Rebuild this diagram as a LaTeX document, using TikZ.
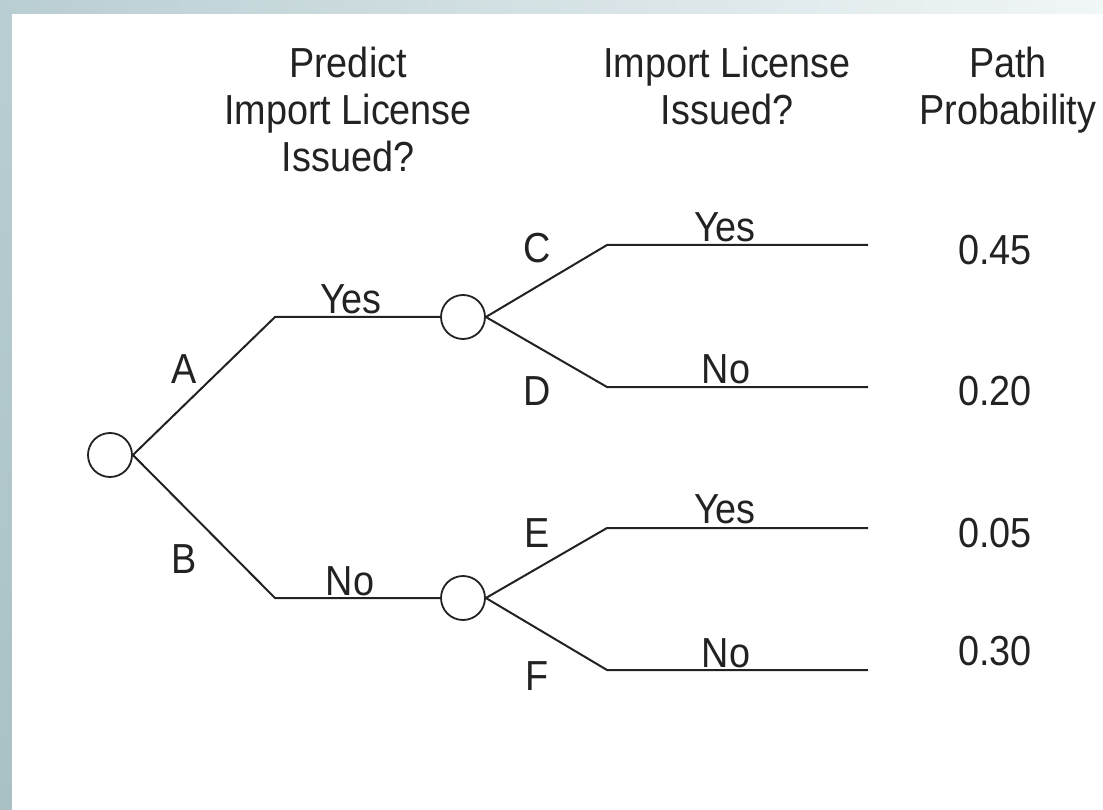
\documentclass[tikz,border=0pt]{standalone}
\usepackage{fontspec}
\setmainfont{Liberation Sans}[FakeStretch=0.9]
\usetikzlibrary{positioning}
\definecolor{edgeblue}{HTML}{B9CED2}
\definecolor{edgedark}{HTML}{A9C1C5}
\definecolor{edgepale}{HTML}{F1F6F7}
\definecolor{inkgray}{HTML}{222222}

\begin{document}
\begin{tikzpicture}[
  x=1pt, y=-1pt,
  font=\fontsize{42}{47}\selectfont,
  chance/.style={draw=inkgray, line width=1.8pt, circle, minimum size=44pt, inner sep=0pt},
  branch/.style={draw=inkgray, line width=2pt},
  lbl/.style={anchor=base, inner sep=0pt, text=inkgray},
  head/.style={anchor=north, align=center, inner sep=0pt, text=inkgray},
]
\useasboundingbox (0,0) rectangle (1103,810);
% ================= backdrop =================
\shade[left color=edgeblue, right color=edgepale] (0,0) rectangle (1103,14);
\shade[top color=edgeblue, bottom color=edgedark] (0,14) rectangle (12,810);
\fill[white] (12,14) rectangle (1103,810);
% ================= column heads =================
\node[head] (hPredict) at (348,46.5) {Predict\\Import License\\Issued?};
\node[head] (hIssued) at (727,46.5) {Import License\\Issued?};
\node[head] (hProb) at (1008,46.5) {Path\\Probability};
% ================= chance nodes =================
\node[chance] (root) at (110,455) {};
\node[chance] (cYes) at (463,317) {};
\node[chance] (cNo) at (463,598) {};
% first-stage knees
\coordinate (kA) at (275,317);
\coordinate (kB) at (275,598);
% second-stage knees and ends
\coordinate (kC) at (607,245); \coordinate (eC) at (868,245);
\coordinate (kD) at (607,387); \coordinate (eD) at (868,387);
\coordinate (kE) at (607,528); \coordinate (eE) at (868,528);
\coordinate (kF) at (607,670); \coordinate (eF) at (868,670);
% ================= branches =================
\draw[branch] (root.east) -- (kA) -- (cYes.west);
\draw[branch] (root.east) -- (kB) -- (cNo.west);
\draw[branch] (cYes.east) -- (kC) -- (eC);
\draw[branch] (cYes.east) -- (kD) -- (eD);
\draw[branch] (cNo.east) -- (kE) -- (eE);
\draw[branch] (cNo.east) -- (kF) -- (eF);
% ================= branch labels =================
\node[lbl] (lA) at (184,383) {A};
\node[lbl] (lB) at (184,573) {B};
\node[lbl] (lYes) at (351,313) {Yes};
\node[lbl] (lNo) at (350,595) {No};
\node[lbl] (lC) at (537,263) {C};
\node[lbl] (lD) at (537,405) {D};
\node[lbl] (lE) at (537,547) {E};
\node[lbl] (lF) at (537,690) {F};
\node[lbl] (lYesC) at (725,242) {Yes};
\node[lbl] (lNoD) at (726,383) {No};
\node[lbl] (lYesE) at (725,523) {Yes};
\node[lbl] (lNoF) at (726,667) {No};
% ================= path probabilities =================
\node[lbl] (pC) at (995,265) {0.45};
\node[lbl] (pD) at (995,405) {0.20};
\node[lbl] (pE) at (995,547) {0.05};
\node[lbl] (pF) at (995,665) {0.30};
\end{tikzpicture}
\end{document}
